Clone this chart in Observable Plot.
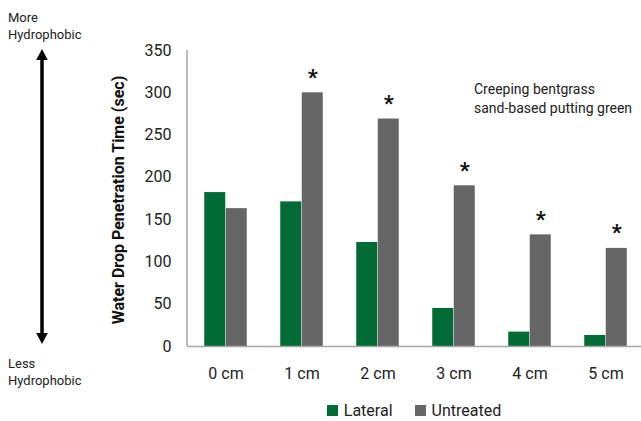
<!DOCTYPE html>
<html>
<head>
<meta charset="utf-8">
<script src="https://cdn.jsdelivr.net/npm/d3@7"></script>
<script src="https://cdn.jsdelivr.net/npm/@observablehq/plot@0.6"></script>
<style>
  html, body { margin: 0; padding: 0; background: #fff; }
  #wrap { position: relative; width: 641px; height: 421px; font-family: Roboto, "Liberation Sans", sans-serif; }
  #legend { position: absolute; left: 187px; right: 0; top: 399px; height: 22px; display: flex; justify-content: center; align-items: center; font-size: 16px; color: #222; }
  .item { display: flex; align-items: center; margin: 0 11px; }
  .sw { width: 11px; height: 11px; margin-right: 6px; }
</style>
</head>
<body>
<div id="wrap"></div>
<script>
const depths = ["0 cm", "1 cm", "2 cm", "3 cm", "4 cm", "5 cm"];
const lateral = [182, 171, 123, 45, 17, 13];
const untreated = [163, 300, 269, 190, 132, 116];
const significant = [false, true, true, true, true, true];
const seriesNames = ["Lateral", "Untreated"];
const seriesColors = ["#006b35", "#666666"];
const yTicks = [0, 50, 100, 150, 200, 250, 300, 350];

const latRows = depths.map((d, i) => ({depth: d, value: lateral[i]}));
const untRows = depths.map((d, i) => ({depth: d, value: untreated[i], sig: significant[i]}));

const W = 641, H = 395;
const half = 10.75;

const chart = Plot.plot({
  width: W,
  height: H,
  marginLeft: 187,
  marginRight: 0,
  marginTop: 50,
  marginBottom: 49,
  style: {fontFamily: "Roboto, sans-serif", fontSize: "16px", color: "#222", background: "#fff"},
  x: {domain: depths, range: [187, 644], paddingInner: 0.718, paddingOuter: 0.359, label: null},
  y: {domain: [0, 350], label: null},
  marks: [
    Plot.axisX({tickSize: 0, tickPadding: 21, fontSize: 16}),
    Plot.axisY({ticks: yTicks, tickSize: 0, tickPadding: 16, fontSize: 16}),
    Plot.barY(latRows, {x: "depth", y: "value", fill: seriesColors[0], dx: -half}),
    Plot.barY(untRows, {x: "depth", y: "value", fill: seriesColors[1], dx: half}),
    Plot.text(untRows.filter(d => d.sig), {x: "depth", y: "value", text: () => "*", dx: half, dy: -8, fontSize: 22, fontWeight: "bold", fill: "#111", lineAnchor: "bottom"}),
    Plot.ruleY([0], {stroke: "#a6a6a6", strokeWidth: 1.5})
  ]
});

const svg = d3.select(chart);
const y = chart.scale("y");
const y350 = y.apply(350), y0 = y.apply(0);
// y axis line
svg.append("line").attr("x1", 187).attr("x2", 187).attr("y1", y350).attr("y2", y0)
  .attr("stroke", "#a6a6a6").attr("stroke-width", 1.5);
// y axis title
svg.append("text").attr("transform", `translate(124,${(y350 + y0) / 2 + 2}) rotate(-90)`)
  .attr("text-anchor", "middle").attr("font-weight", "bold").attr("font-size", 16)
  .attr("fill", "#111").text("Water Drop Penetration Time (sec)");
// double arrow
const ax = 42;
svg.append("line").attr("x1", ax).attr("x2", ax).attr("y1", y350 + 6).attr("y2", y0 - 8)
  .attr("stroke", "#000").attr("stroke-width", 3.5);
svg.append("path").attr("d", `M${ax},${y350 - 1}L${ax - 5.8},${y350 + 10}L${ax + 5.8},${y350 + 10}Z`).attr("fill", "#000");
svg.append("path").attr("d", `M${ax},${y0 - 2}L${ax - 5.8},${y0 - 13}L${ax + 5.8},${y0 - 13}Z`).attr("fill", "#000");
// annotations
const ann = [["More", 8, 17], ["Hydrophobic", 8, 34], ["Less", 8, 363], ["Hydrophobic", 8, 380]];
ann.forEach(([t, x, yy]) => svg.append("text").attr("x", x).attr("y", yy).attr("dy", "0.35em")
  .attr("text-anchor", "start").attr("font-size", 13).attr("fill", "#222").text(t));
const note = ["Creeping bentgrass", "sand-based putting green"];
note.forEach((t, i) => svg.append("text").attr("x", 474).attr("y", 89 + i * 19).attr("dy", "0.35em")
  .attr("text-anchor", "start").attr("font-size", 14).attr("fill", "#222").text(t));

const wrap = document.getElementById("wrap");
wrap.appendChild(chart);
const legend = document.createElement("div");
legend.id = "legend";
seriesNames.forEach((n, i) => {
  const it = document.createElement("div");
  it.className = "item";
  it.innerHTML = `<div class="sw" style="background:${seriesColors[i]}"></div><span>${n}</span>`;
  legend.appendChild(it);
});
wrap.appendChild(legend);
</script>
</body>
</html>
